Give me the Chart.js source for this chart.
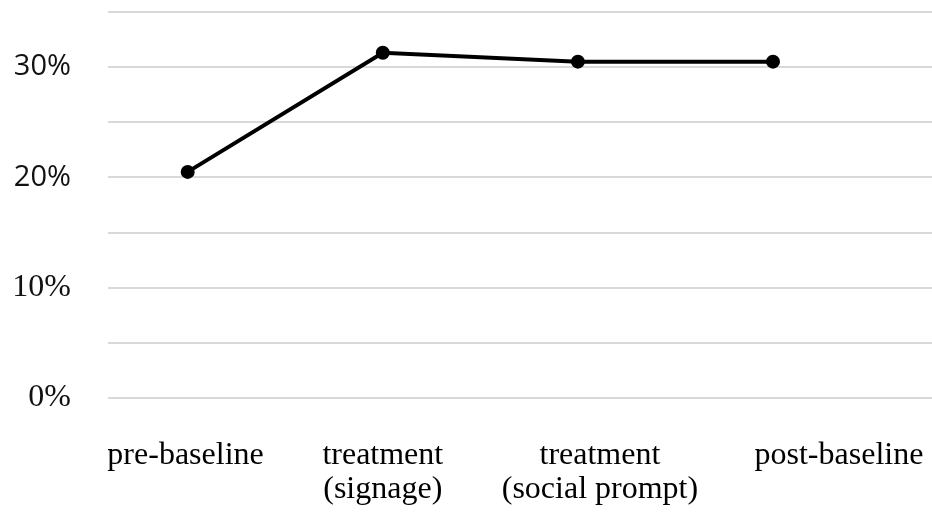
<!DOCTYPE html>
<html>
<head>
<meta charset="utf-8">
<script src="https://cdn.jsdelivr.net/npm/chart.js@4/dist/chart.umd.min.js"></script>
<style>
  html, body { margin: 0; padding: 0; background: #ffffff; }
  #wrap { width: 932px; height: 516px; }
</style>
</head>
<body>
<div id="wrap"><canvas id="c" width="932" height="516"></canvas></div>
<script>
// ---- data ----
const categories = [
  ['pre-baseline'],
  ['treatment', '(signage)'],
  ['treatment', '(social prompt)'],
  ['post-baseline']
];
const values = [20.5, 31.3, 30.5, 30.5];   // percent
const yTicks = [0, 5, 10, 15, 20, 25, 30, 35];
const yTickLabels = ['0%', '', '10%', '', '20%', '', '30%', ''];

// ---- layout (not data) ----
const xRange = { min: -0.4085, max: 3.815 };
const labelAnchors = [-0.011, 1.0, 2.113, 3.338]; // where the category captions sit on the axis

const serif = { family: '"Liberation Serif", "Times New Roman", serif', size: 32, lineHeight: 1.05 };
const sans = { family: '"Open Sans", "Noto Sans", sans-serif', size: 29, lineHeight: 1.1 };

// pin the plot area to the reference frame
const frame = { left: 108, top: 12, right: 932, bottom: 398 };
const pinArea = {
  id: 'pinArea',
  afterLayout(chart) {
    const a = chart.chartArea;
    a.left = frame.left; a.top = frame.top; a.right = frame.right; a.bottom = frame.bottom;
    a.width = a.right - a.left; a.height = a.bottom - a.top;
    const xs = chart.scales.x, ys = chart.scales.y;
    xs.left = frame.left; xs.right = frame.right; xs.width = frame.right - frame.left;
    xs.top = frame.bottom; xs.bottom = 516;
    ys.top = frame.top; ys.bottom = frame.bottom; ys.height = frame.bottom - frame.top;
    ys.left = 0; ys.right = frame.left;
    xs.configure(); ys.configure();
    xs._labelItems = null; ys._labelItems = null;
    xs._gridLineItems = null; ys._gridLineItems = null;
  }
};

new Chart(document.getElementById('c'), {
  type: 'line',
  data: {
    datasets: [{
      data: values.map((v, i) => ({ x: i, y: v })),
      borderColor: '#000000',
      backgroundColor: '#000000',
      borderWidth: 4,
      pointRadius: 5,
      pointHoverRadius: 5,
      pointBackgroundColor: '#000000',
      pointBorderColor: '#000000',
      tension: 0,
      fill: false
    }]
  },
  plugins: [pinArea],
  options: {
    responsive: false,
    animation: false,
    events: [],
    layout: { padding: { top: 12, right: 0, bottom: 11, left: 0 } },
    plugins: { legend: { display: false }, tooltip: { enabled: false } },
    scales: {
      x: {
        type: 'linear',
        min: xRange.min,
        max: xRange.max,
        afterBuildTicks: (scale) => { scale.ticks = labelAnchors.map(v => ({ value: v })); },
        afterFit: (scale) => { scale.height = 107; },
        grid: { display: false, drawTicks: false },
        border: { display: false },
        ticks: {
          autoSkip: false,
          maxRotation: 0,
          minRotation: 0,
          padding: 41,
          color: '#000000',
          font: serif,
          callback: (value, index) => categories[index]
        }
      },
      y: {
        min: 0,
        max: 35,
        afterBuildTicks: (scale) => { scale.ticks = yTicks.map(v => ({ value: v })); },
        afterFit: (scale) => { scale.width = 108; },
        grid: { color: '#d9d9d9', lineWidth: 2, drawTicks: false },
        border: { display: false },
        ticks: {
          padding: 37,
          color: '#111111',
          font: (ctx) => (ctx.tick && ctx.tick.value >= 20 ? sans : serif),
          callback: (value, index) => yTickLabels[yTicks.indexOf(value)]
        }
      }
    }
  }
});
</script>
</body>
</html>
